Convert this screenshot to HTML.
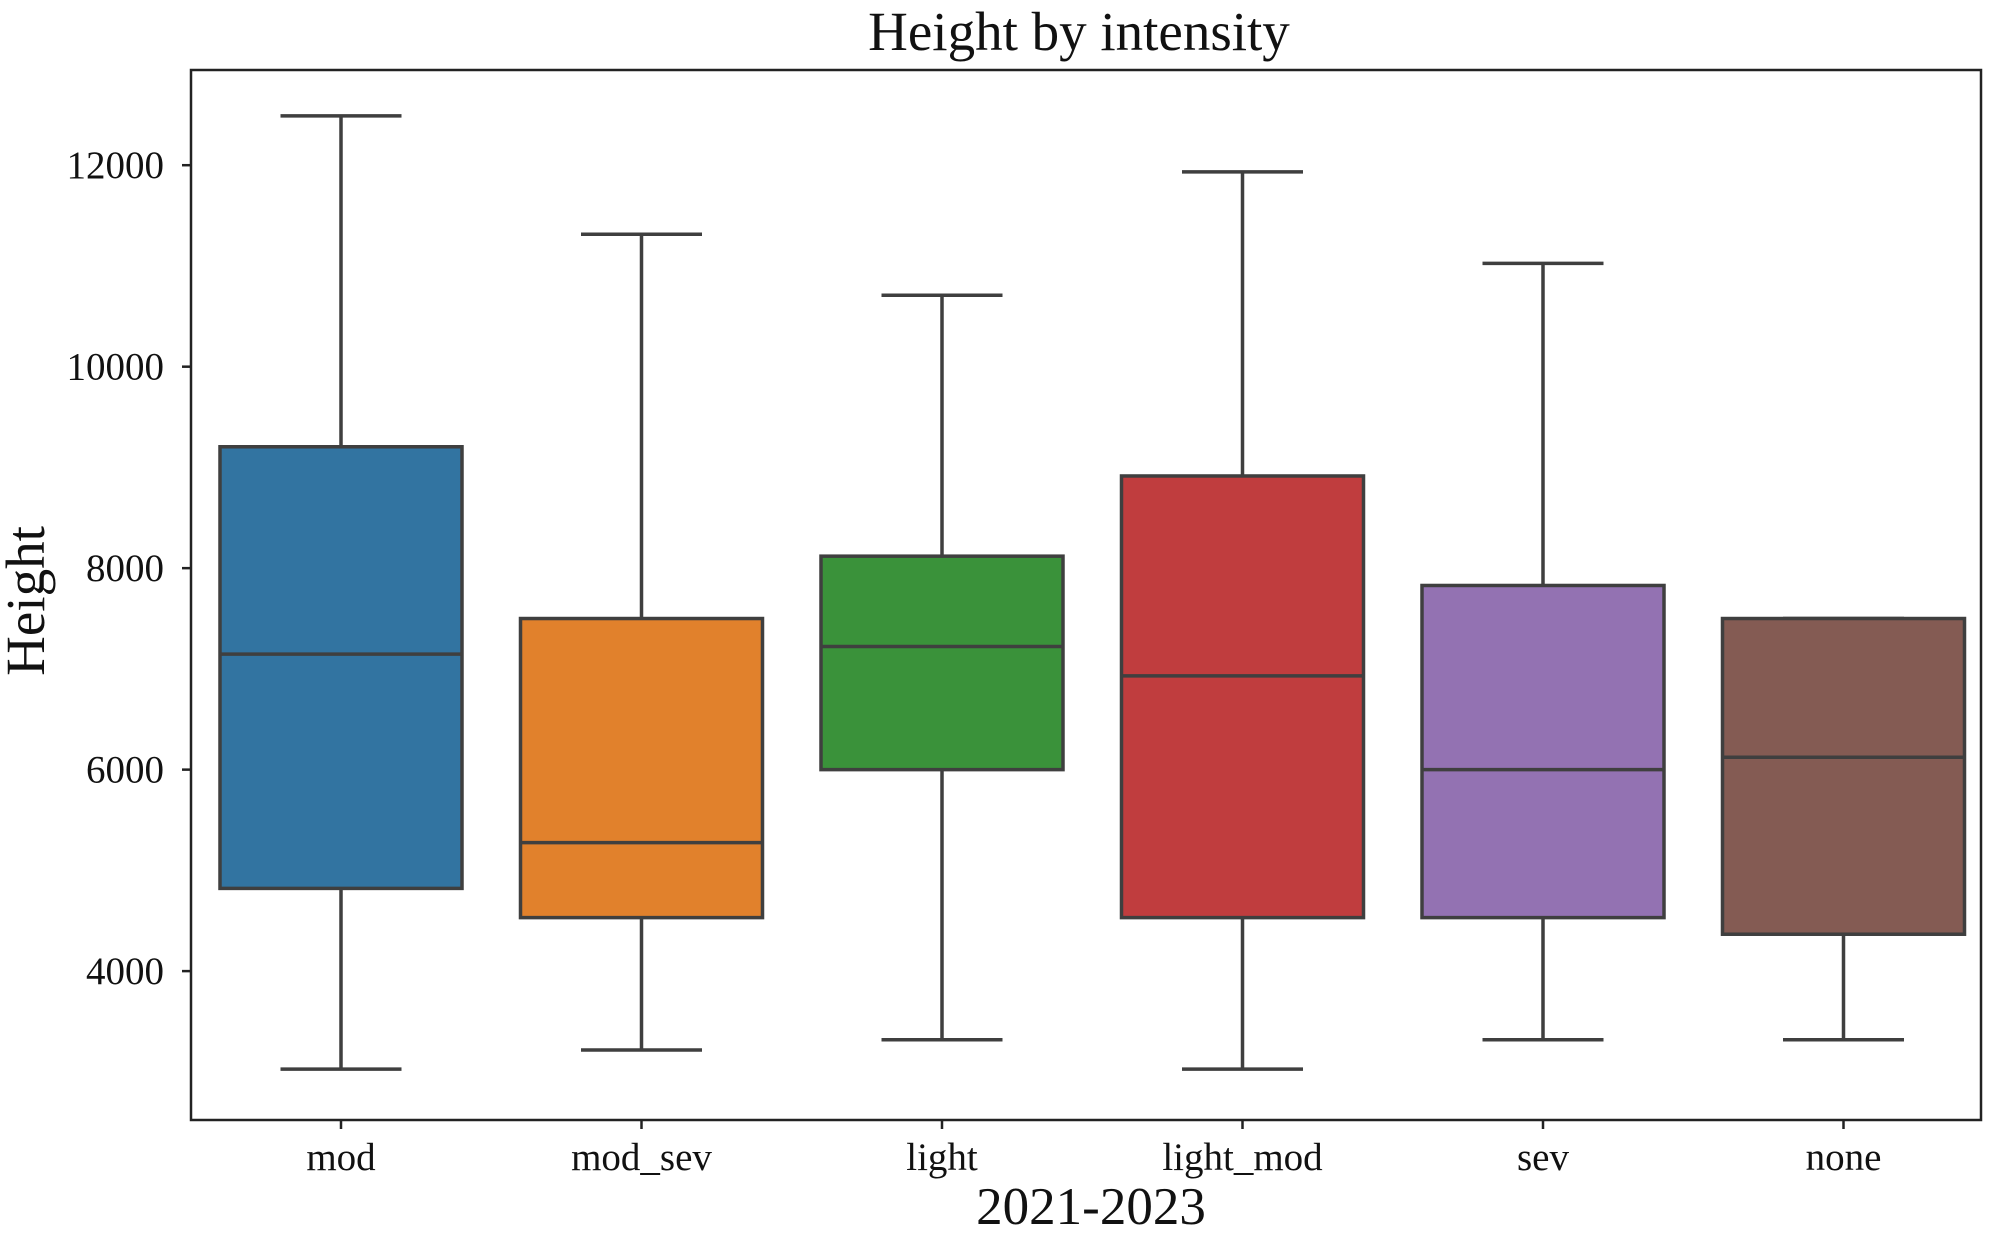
<!DOCTYPE html>
<html><head><meta charset="utf-8"><style>
html,body{margin:0;padding:0;background:#fff;}
svg{display:block;font-family:"Liberation Serif",serif;}
</style></head><body>
<svg id="chart" width="2000" height="1234" viewBox="0 0 2000 1234" xmlns="http://www.w3.org/2000/svg">
<text x="1079" y="50" text-anchor="middle" font-size="55" fill="#111">Height by intensity</text>
<text x="1091" y="1224" text-anchor="middle" font-size="53" fill="#111">2021-2023</text>
<text transform="translate(44,601) rotate(-90)" text-anchor="middle" font-size="55" fill="#111">Height</text>
<g id="marks"></g>
<rect x="191" y="70" width="1790" height="1050" fill="none" stroke="#222" stroke-width="2.5"/>
</svg>
<script>
const categories = ["mod","mod_sev","light","light_mod","sev","none"];
const mins    = [3027,3217,3318,3027,3318,3318];
const q1s     = [4821,4531,6000,4531,4531,4366];
const medians = [7146,5276,7222,6931,6000,6123];
const q3s     = [9205,7500,8119,8915,7828,7500];
const maxs    = [12490,11315,10709,11934,11025,7500];
const yTicks  = [4000,6000,8000,10000,12000];
const colors  = ["#3274a1","#e1812c","#3a923a","#c03d3e","#9372b2","#845b53"];

const L=191,R=1981,T=70,B=1120,yMin=2522,yMax=12945;
const NS="http://www.w3.org/2000/svg";
const g=document.getElementById('marks');
function y(v){return B-(v-yMin)/(yMax-yMin)*(B-T);}
const band=300.5;
function xc(i){return 341+band*i;}
function el(tag,attrs){const e=document.createElementNS(NS,tag);for(const k in attrs)e.setAttribute(k,attrs[k]);g.appendChild(e);return e;}
const lc="#3f3f3f",lw=3.5;
yTicks.forEach(t=>{
  const tk=el('line',{x1:L-9,x2:L,y1:y(t),y2:y(t),stroke:'#222','stroke-width':2.5});
  
  
  const tx=el('text',{x:L-27,y:y(t)+13,'text-anchor':'end','font-size':39,fill:'#111'});
  tx.textContent=t;
  
  
});
categories.forEach((c,i)=>{
  const cx=xc(i),bw=242,cw=bw*0.5;
  const tk=el('line',{x1:cx,x2:cx,y1:B,y2:B+9,stroke:'#222','stroke-width':2.5});
  
  
  const tx=el('text',{x:cx,y:B+50,'text-anchor':'middle','font-size':39,fill:'#111'});
  tx.textContent=c;
  
  
  const w1=el('line',{x1:cx,x2:cx,y1:y(q3s[i]),y2:y(maxs[i]),stroke:lc,'stroke-width':lw});
  
  
  const w2=el('line',{x1:cx,x2:cx,y1:y(q1s[i]),y2:y(mins[i]),stroke:lc,'stroke-width':lw});
  
  
  const c1=el('line',{x1:cx-cw/2,x2:cx+cw/2,y1:y(maxs[i]),y2:y(maxs[i]),stroke:lc,'stroke-width':lw});
  
  
  const c2=el('line',{x1:cx-cw/2,x2:cx+cw/2,y1:y(mins[i]),y2:y(mins[i]),stroke:lc,'stroke-width':lw});
  
  
  const bx=el('rect',{x:cx-bw/2,y:y(q3s[i]),width:bw,height:y(q1s[i])-y(q3s[i]),fill:colors[i],stroke:lc,'stroke-width':lw});
  
  
  const md=el('line',{x1:cx-bw/2,x2:cx+bw/2,y1:y(medians[i]),y2:y(medians[i]),stroke:lc,'stroke-width':lw});
  
  
});
</script>
</body></html>
